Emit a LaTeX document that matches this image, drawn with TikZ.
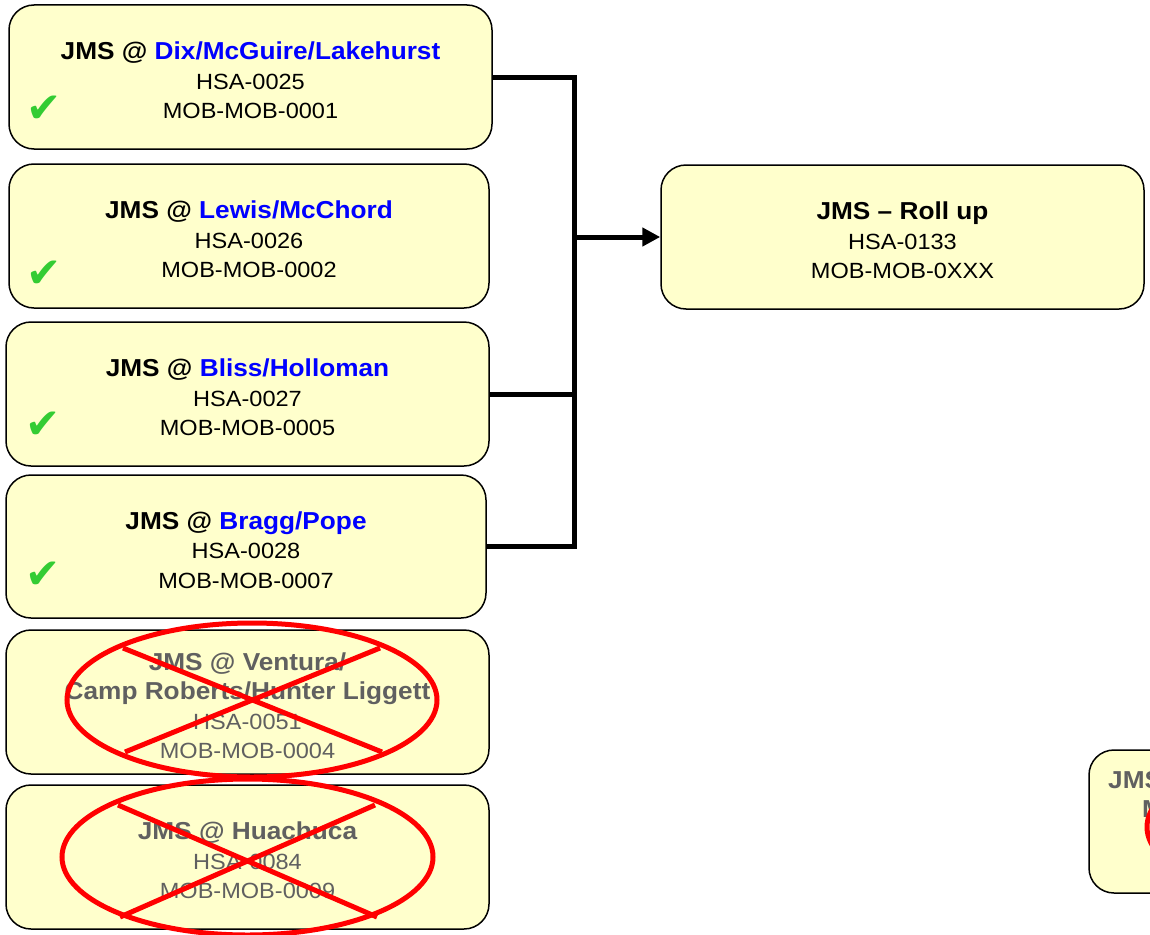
\documentclass[tikz,border=0pt]{standalone}
\usepackage{fontspec}
\setmainfont{Liberation Sans}[FakeStretch=1.07]
\newfontfamily\checkfont{DejaVu Sans}
\usetikzlibrary{arrows.meta}
\definecolor{boxfill}{HTML}{FFFFCC}
\definecolor{sitecol}{HTML}{0000FF}
\definecolor{okgreen}{HTML}{33CC33}
\definecolor{offgray}{HTML}{606060}
\definecolor{crossred}{HTML}{FF0000}
% heading line; the first one carries a taller strut to sit the block a little lower
\newcommand{\ttl}[1]{{\fontsize{24.5}{29.5}\selectfont\bfseries #1}}
\newcommand{\ttlA}[1]{{\fontsize{24.5}{29.5}\selectfont\bfseries\rule{0pt}{25pt}#1}}
\tikzset{
  site/.style={draw=black, line width=1.5pt, fill=boxfill, rounded corners=25pt,
    minimum width=483pt, minimum height=144pt, inner sep=0pt, align=center,
    font=\fontsize{22}{29.5}\selectfont},
  offsite/.style={site, text=offgray},
  tick/.style={text=okgreen, font=\checkfont\fontsize{42}{42}\selectfont, inner sep=0pt},
  feed/.style={draw=black, line width=5pt},
  cross/.style={draw=crossred, line width=5pt},
}
\begin{document}
\begin{tikzpicture}[x=1pt, y=-1pt]
\useasboundingbox (0,0) rectangle (1150,934);
\clip (0,0) rectangle (1150,934);

% active sites
\node[site, minimum width=483pt] (b1) at (250.5,77)
  {\ttlA{JMS @ \textcolor{sitecol}{Dix/McGuire/Lakehurst}}\\HSA-0025\\MOB-MOB-0001};
\node[site, minimum width=480pt] (b2) at (249,236)
  {\ttlA{JMS @ \textcolor{sitecol}{Lewis/McChord}}\\HSA-0026\\MOB-MOB-0002};
\node[site, minimum width=483pt] (b3) at (247.5,394)
  {\ttlA{JMS @ \textcolor{sitecol}{Bliss/Holloman}}\\HSA-0027\\MOB-MOB-0005};
\node[site, minimum width=480pt, minimum height=143pt] (b4) at (246,546.5)
  {\ttlA{JMS @ \textcolor{sitecol}{Bragg/Pope}}\\HSA-0028\\MOB-MOB-0007};

% dropped sites
\node[offsite] (b5) at (247.5,702)
  {\ttlA{JMS @ Ventura/}\\\ttl{Camp Roberts/Hunter Liggett}\\HSA-0051\\MOB-MOB-0004};
\node[offsite] (b6) at (247.5,857)
  {\ttlA{JMS @ Huachuca}\\HSA-0084\\MOB-MOB-0009};

% roll-up target
\node[site] (roll) at (902.5,237)
  {\ttlA{JMS -- Roll up}\\HSA-0133\\MOB-MOB-0XXX};

% further site, running off the right edge
\node[offsite, minimum height=143pt] (b7) at (1330.5,821.5) {};
\node[anchor=west, inner sep=0pt, text=offgray] (b7t) at (1108,780) {\ttl{JMS}};
\node[anchor=west, inner sep=0pt, text=offgray] (b7m) at (1142,809) {\ttl{M}};
\draw[cross] (1332,827) ellipse [x radius=185, y radius=77];

% check marks
\node[tick] (k1) at (44,109) {✔};
\node[tick] (k2) at (44,274) {✔};
\node[tick] (k3) at (43,425) {✔};
\node[tick] (k4) at (43,575) {✔};

% feeder lines into the roll-up
\coordinate (j) at (574,237);
\draw[feed] (b1.east) -| (j);
\draw[feed] (b3.east) -| (j);
\draw[feed] (b4.east) -| (j);
\draw[feed, -{Triangle[length=18pt, width=18pt]}] (j) -- (roll.west);

% crossed-out sites
\draw[cross] (252,700) ellipse [x radius=185, y radius=77];
\draw[cross] (123,648) -- (382,752);
\draw[cross] (125,752) -- (380,648);
\draw[cross] (247.5,857) ellipse [x radius=185.5, y radius=78];
\draw[cross] (118,805) -- (377,917);
\draw[cross] (120,917) -- (375,805);
\end{tikzpicture}
\end{document}
